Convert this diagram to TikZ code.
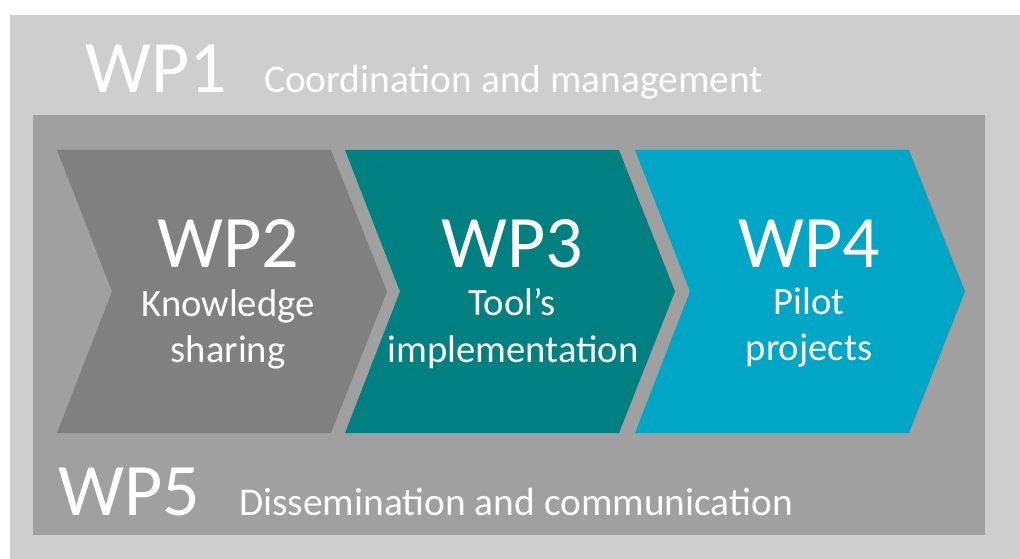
\documentclass[tikz,border=0pt]{standalone}
\usepackage{fontspec}
\setmainfont{Carlito}
\definecolor{bglight}{HTML}{CECECE}
\definecolor{bgdark}{HTML}{A0A0A0}
\definecolor{cgray}{HTML}{808080}
\definecolor{cteal}{HTML}{008080}
\definecolor{ccyan}{HTML}{00A6C6}
\tikzset{
  big/.style={text=white,inner sep=0pt,anchor=base,font=\fontsize{74}{88}\selectfont},
  sub/.style={text=white,inner sep=0pt,anchor=base west,font=\fontsize{39.4}{47}\selectfont},
  desc/.style={text=white,inner sep=0pt,anchor=base,font=\fontsize{38.6}{46}\selectfont},
}
\begin{document}
\begin{tikzpicture}[x=1pt,y=-1pt]
\useasboundingbox (0,0) rectangle (1020,559);
\fill[white] (0,0) rectangle (1020,559);
\fill[bglight] (10,15) rectangle (1020,559);
\fill[bgdark] (33,115) rectangle (985,535);
% chevrons
\fill[cgray] (57,150) -- (331,150) -- (387,291.5) -- (331,433) -- (57,433) -- (112,291.5) -- cycle;
\fill[cteal] (345,150) -- (619,150) -- (675,291.5) -- (619,433) -- (345,433) -- (400,291.5) -- cycle;
\fill[ccyan] (635,150) -- (909,150) -- (965,291.5) -- (909,433) -- (635,433) -- (690,291.5) -- cycle;
% top and bottom
\node[big,anchor=base west] (wp1) at (85,93) {WP1};
\node[sub] (wp1t) at (264,93) {Coordination and management};
\node[big,anchor=base west] (wp5) at (58,515) {WP5};
\node[sub] (wp5t) at (239,515) {Dissemination and communication};
% chevron texts
\node[big] (wp2) at (228,267) {WP2};
\node[desc] (wp2a) at (228,316) {Knowledge};
\node[desc] (wp2b) at (228,362) {sharing};
\node[big] (wp3) at (512,267) {WP3};
\node[desc] (wp3a) at (512,315) {Tool’s};
\node[desc] (wp3b) at (513,362) {implementation};
\node[big] (wp4) at (809,267) {WP4};
\node[desc] (wp4a) at (809,314) {Pilot};
\node[desc] (wp4b) at (809,360) {projects};
\end{tikzpicture}
\end{document}
